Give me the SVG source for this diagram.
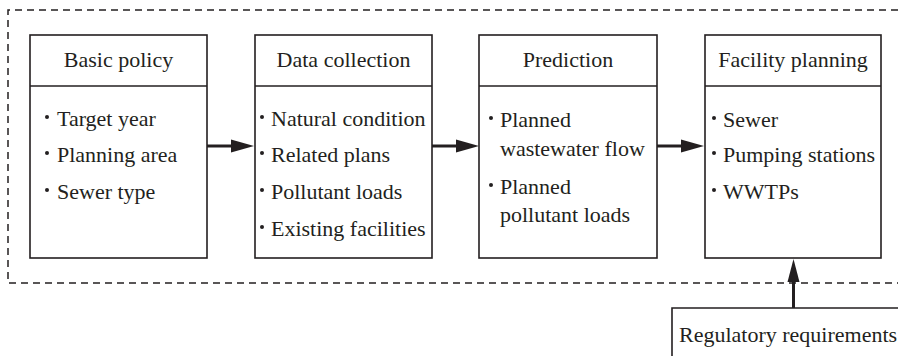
<svg xmlns="http://www.w3.org/2000/svg" width="898" height="356" viewBox="0 0 898 356">
  <defs>
    <style>
      .box { fill: #ffffff; stroke: #231f20; stroke-width: 1.6; }
      .rule { stroke: #231f20; stroke-width: 1.6; fill: none; }
      .frame { stroke: #231f20; stroke-width: 1.5; fill: none; stroke-dasharray: 7 5; }
      .flow { stroke: #231f20; stroke-width: 3; fill: none; }
      .head { fill: #231f20; }
      text { font-family: "Liberation Serif", "Times New Roman", serif; font-size: 22px; fill: #231f20; }
      .title { text-anchor: middle; }
      .dot { fill: #231f20; }
    </style>
  </defs>

  <rect width="898" height="356" fill="#ffffff"/>

  <!-- dashed boundary (open on the right) -->
  <path class="frame" d="M898 10 H8 V283 H898"/>

  <!-- connectors -->
  <g id="connectors">
    <line class="flow" x1="207" y1="146" x2="233" y2="146"/>
    <polygon class="head" points="231,139.5 254,146 231,152.5"/>
    <line class="flow" x1="432" y1="146" x2="458" y2="146"/>
    <polygon class="head" points="456,139.5 479,146 456,152.5"/>
    <line class="flow" x1="657" y1="146" x2="683" y2="146"/>
    <polygon class="head" points="681,139.5 704,146 681,152.5"/>
    <line class="flow" x1="793.5" y1="308" x2="793.5" y2="279"/>
    <polygon class="head" points="787.5,282 793.5,259 799.5,282"/>
  </g>

  <!-- Basic policy -->
  <g id="basic-policy">
    <rect class="box" x="30" y="35" width="177" height="223"/>
    <line class="rule" x1="30" y1="86" x2="207" y2="86"/>
    <text class="title" x="118.5" y="67">Basic policy</text>
    <circle class="dot" cx="47" cy="117" r="2"/>
    <text x="57" y="126">Target year</text>
    <circle class="dot" cx="47" cy="153" r="2"/>
    <text x="57" y="162">Planning area</text>
    <circle class="dot" cx="47" cy="190" r="2"/>
    <text x="57" y="199">Sewer type</text>
  </g>

  <!-- Data collection -->
  <g id="data-collection">
    <rect class="box" x="255" y="35" width="177" height="223"/>
    <line class="rule" x1="255" y1="86" x2="432" y2="86"/>
    <text class="title" x="343.5" y="67">Data collection</text>
    <circle class="dot" cx="262" cy="117" r="2"/>
    <text x="271" y="126">Natural condition</text>
    <circle class="dot" cx="262" cy="153" r="2"/>
    <text x="271" y="162">Related plans</text>
    <circle class="dot" cx="262" cy="190" r="2"/>
    <text x="271" y="199">Pollutant loads</text>
    <circle class="dot" cx="262" cy="227" r="2"/>
    <text x="271" y="236">Existing facilities</text>
  </g>

  <!-- Prediction -->
  <g id="prediction">
    <rect class="box" x="479" y="35" width="178" height="223"/>
    <line class="rule" x1="479" y1="86" x2="657" y2="86"/>
    <text class="title" x="568" y="67">Prediction</text>
    <circle class="dot" cx="491" cy="118" r="2"/>
    <text x="500" y="127">Planned</text>
    <text x="500" y="156">wastewater flow</text>
    <circle class="dot" cx="491" cy="185" r="2"/>
    <text x="500" y="194">Planned</text>
    <text x="500" y="222">pollutant loads</text>
  </g>

  <!-- Facility planning -->
  <g id="facility-planning">
    <rect class="box" x="705" y="35" width="176" height="223"/>
    <line class="rule" x1="705" y1="86" x2="881" y2="86"/>
    <text class="title" x="793" y="67">Facility planning</text>
    <circle class="dot" cx="714" cy="118" r="2"/>
    <text x="723" y="127">Sewer</text>
    <circle class="dot" cx="714" cy="153" r="2"/>
    <text x="723" y="162">Pumping stations</text>
    <circle class="dot" cx="714" cy="190" r="2"/>
    <text x="723" y="199">WWTPs</text>
  </g>

  <!-- Regulatory requirements (runs past the right and bottom edges) -->
  <g id="regulatory-requirements">
    <path class="rule" d="M672 360 V308 H900"/>
    <text x="679" y="342">Regulatory requirements</text>
  </g>
</svg>
